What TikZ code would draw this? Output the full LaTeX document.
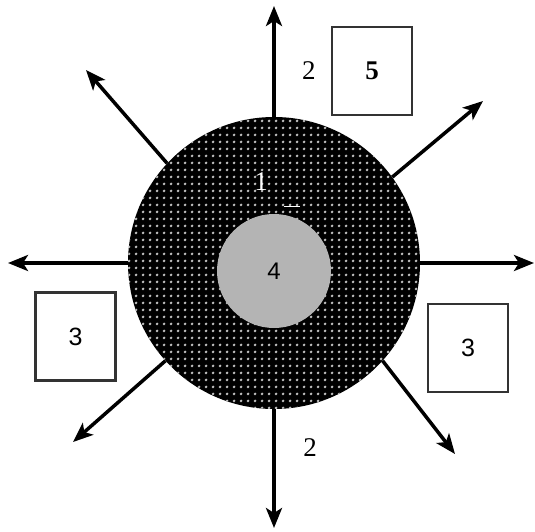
\documentclass[tikz,border=0pt]{standalone}
\usepackage{fontspec}
\setmainfont{Liberation Serif}
\newfontfamily\labsans{Liberation Sans}
\usetikzlibrary{arrows.meta,positioning,patterns.meta}
\definecolor{coregray}{HTML}{B4B4B4}
\definecolor{dotgray}{HTML}{BEBEBE}
\definecolor{boxline}{HTML}{333333}

\begin{document}
\begin{tikzpicture}[x=1pt, y=-1pt,
  ring/.style={circle, fill=black, minimum size=292pt, inner sep=0pt, postaction={pattern={Dots[distance=6.5pt,radius=1.6pt]}, pattern color=dotgray}},
  core/.style={circle, fill=coregray, minimum size=114pt, inner sep=0pt, font=\labsans\fontsize{24}{26}\selectfont},
  box/.style={draw=boxline, line width=2.5pt, minimum width=80pt, minimum height=88pt, inner sep=0pt},
  arr/.style={-{Stealth[length=20pt,width=16pt,inset=5pt]}, line width=3.5pt},
  num/.style={font=\fontsize{27}{29}\selectfont, inner sep=1pt}
]
\useasboundingbox (0,0) rectangle (535,531);
\node[ring] (ring) at (274,263) {};
\node[core] (core) at (274,271) {4};
\node[num, text=white] (one) at (261,182) {1};
\draw[white, line width=1pt] (284,206) -- (300,206);
% arrow tips
\coordinate (tipN) at (274,6);
\coordinate (tipS) at (274,528);
\coordinate (tipW) at (8,263);
\coordinate (tipE) at (534,263);
\coordinate (tipNW) at (86,70);
\coordinate (tipNE) at (483,101);
\coordinate (tipSW) at (73,442);
\coordinate (tipSE) at (455,454);
\draw[arr] (ring.north) -- (tipN);
\draw[arr] (ring.south) -- (tipS);
\draw[arr] (ring.west) -- (tipW);
\draw[arr] (ring.east) -- (tipE);
\draw[arr] (ring.137) -- (tipNW);
\draw[arr] (ring.36) -- (tipNE);
\draw[arr] (ring.222) -- (tipSW);
\draw[arr] (ring.-42) -- (tipSE);
% boxes
\node[box, num] (b5) at (372,71) {\textbf{5}};
\node[box, num, font=\labsans\fontsize{25}{27}\selectfont] (b3l) at (75.5,336.5) {3};
\node[box, num, font=\labsans\fontsize{25}{27}\selectfont] (b3r) at (468,348) {3};
\node[num, left=14pt of b5] (twoN) {2};
\node[num] (twoS) at (310,448) {2};
\end{tikzpicture}
\end{document}
